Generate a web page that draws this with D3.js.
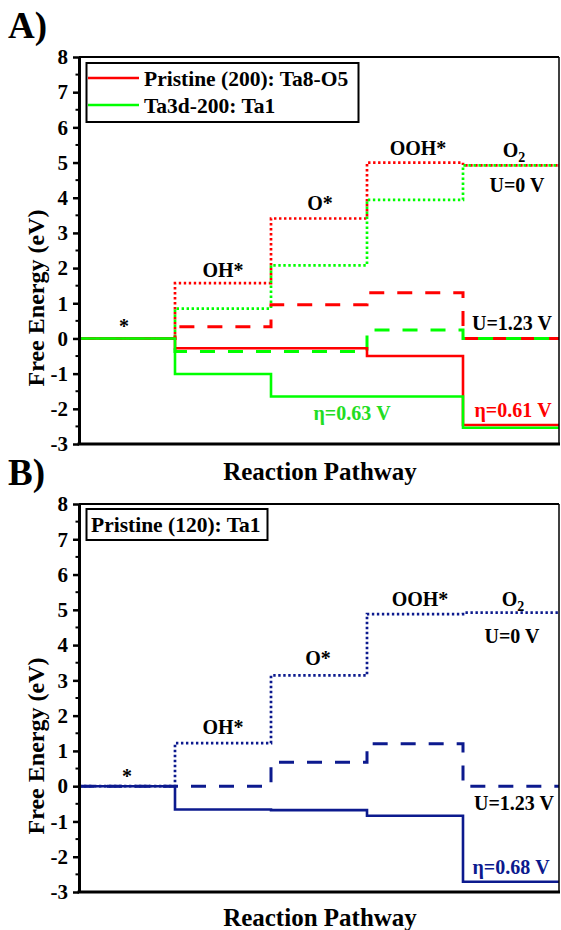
<!DOCTYPE html>
<html>
<head>
<meta charset="utf-8">
<script src="https://cdn.jsdelivr.net/npm/d3@7"></script>
<style>
  html, body { margin: 0; padding: 0; background: #fff; overflow: hidden; }
  svg { display: block; }
  text { font-family: "Liberation Serif", "Times New Roman", serif; font-weight: bold; }
</style>
</head>
<body>
<svg id="chart" width="561" height="930"></svg>
<script>
// ---- Data ----
const steps = ["*", "OH*", "O*", "OOH*", "O2"];
const yTicks = [-3, -2, -1, 0, 1, 2, 3, 4, 5, 6, 7, 8];

// Panel A: Pristine (200): Ta8-O5 (red)
const pristine200_U0   = [0, 1.57, 3.41, 5.00, 4.92];
const pristine200_U123 = [0, 0.33, 0.96, 1.30, 0.00];
const pristine200_Ueta = [0, -0.28, -0.28, -0.50, -2.46];
// Panel A: Ta3d-200: Ta1 (green)
const ta3d200_U0   = [0, 0.85, 2.08, 3.94, 4.92];
const ta3d200_U123 = [0, -0.37, -0.37, 0.24, 0.00];
const ta3d200_Ueta = [0, -1.01, -1.65, -1.65, -2.54];
// Panel B: Pristine (120): Ta1 (navy)
const pristine120_U0   = [0, 1.22, 3.14, 4.88, 4.92];
const pristine120_U123 = [0, 0.00, 0.68, 1.20, 0.00];
const pristine120_Ueta = [0, -0.66, -0.68, -0.84, -2.71];

const RED = "#ff0000", GREEN = "#00ff00", NAVY = "#0c1a8e";

const svg = d3.select("#chart");
const X0 = 79, X1 = 559;
const x = d3.scaleLinear().domain([0, steps.length]).range([X0, X1]);

function stepPts(vals) {
  const pts = vals.map((v, i) => [i, v]);
  pts.push([vals.length, vals[vals.length - 1]]);
  return pts;
}

const styles = {
  dot:  { w: 2.7, dash: "2.4,2.6" },
  dash: { w: 3,   dash: "15,13" },
  solid:{ w: 2.6, dash: null }
};

function panel(cfg) {
  const y = d3.scaleLinear().domain([-3, 8]).range([cfg.yBottom, cfg.yTop]);
  const g = svg.append("g");
  const line = d3.line().x(d => x(d[0])).y(d => y(d[1])).curve(d3.curveStepAfter);

  cfg.series.forEach(s => {
    const st = styles[s.style];
    g.append("path")
      .attr("d", line(stepPts(s.values)))
      .attr("fill", "none")
      .attr("stroke", s.color)
      .attr("stroke-width", st.w)
      .attr("stroke-dasharray", st.dash)
      .attr("stroke-dashoffset", s.offset || 0);
  });

  // frame: top and right
  g.append("line").attr("x1", X0).attr("x2", X1).attr("y1", cfg.yTop).attr("y2", cfg.yTop)
    .attr("stroke", "#000").attr("stroke-width", 2);
  g.append("line").attr("x1", X1).attr("x2", X1).attr("y1", cfg.yTop).attr("y2", cfg.yBottom)
    .attr("stroke", "#000").attr("stroke-width", 1.5);

  // y axis
  const yAxis = d3.axisLeft(y).tickValues(yTicks).tickSize(6).tickSizeOuter(0).tickPadding(5)
    .tickFormat(d => d < 0 ? "-" + Math.abs(d) : d);
  const ag = g.append("g").attr("transform", `translate(${X0},0)`).call(yAxis);
  ag.select(".domain").attr("stroke-width", 3);
  ag.selectAll(".tick line").attr("stroke-width", 2.5);
  ag.selectAll(".tick text").attr("font-size", 21).attr("font-family", "Liberation Serif, serif")
    .attr("font-weight", "bold").attr("fill", "#000");
  const minors = d3.range(-2.5, 8, 1);
  g.selectAll(".minor").data(minors).enter().append("line")
    .attr("x1", X0 - 3.5).attr("x2", X0).attr("y1", d => y(d)).attr("y2", d => y(d))
    .attr("stroke", "#000").attr("stroke-width", 2);

  // x axis line
  g.append("line").attr("x1", X0 - 1.5).attr("x2", X1 + 1).attr("y1", cfg.yBottom).attr("y2", cfg.yBottom)
    .attr("stroke", "#000").attr("stroke-width", 3);

  // axis titles
  g.append("text").attr("x", 320).attr("y", cfg.yBottom + cfg.xTitleDy).attr("text-anchor", "middle")
    .attr("font-size", 25).text("Reaction Pathway");
  g.append("text").attr("transform", `translate(${44},${cfg.yBottom - 146}) rotate(-90)`)
    .attr("text-anchor", "middle").attr("font-size", 24).text("Free Energy (eV)");

  // panel letter
  g.append("text").attr("x", 8).attr("y", cfg.yTop - 19).attr("font-size", 37).text(cfg.letter);

  cfg.labels.forEach(l => {
    if (l.t === "O2") {
      const tt = g.append("text").attr("x", l.x).attr("y", l.y).attr("text-anchor", "middle")
        .attr("font-size", 20).attr("fill", "#000");
      tt.append("tspan").text("O");
      tt.append("tspan").attr("font-size", 14).attr("dy", 5).text("2");
    } else {
      g.append("text").attr("x", l.x).attr("y", l.y).attr("text-anchor", "middle")
        .attr("font-size", 20).attr("fill", l.color || "#000").text(l.t);
    }
  });
  return { g, y };
}

// Panel A
const A = panel({
  letter: "A)", yTop: 57, yBottom: 444, xTitleDy: 36,
  series: [
    { values: pristine200_U0, color: RED, style: "dot" },
    { values: ta3d200_U0, color: GREEN, style: "dot", offset: 2.5 },
    { values: pristine200_U123, color: RED, style: "dash" },
    { values: ta3d200_U123, color: GREEN, style: "dash", offset: 6 },
    { values: pristine200_Ueta, color: RED, style: "solid" },
    { values: ta3d200_Ueta, color: GREEN, style: "solid" }
  ],
  labels: [
    { x: 124, y: 333, t: "*" },
    { x: 223, y: 277, t: "OH*" },
    { x: 320, y: 210, t: "O*" },
    { x: 418, y: 155, t: "OOH*" },
    { x: 514, y: 157, t: "O2" },
    { x: 517, y: 192, t: "U=0 V" },
    { x: 512, y: 330, t: "U=1.23 V" },
    { x: 352, y: 420, t: "\u03b7=0.63 V", color: "#22dd22" },
    { x: 513, y: 417, t: "\u03b7=0.61 V", color: RED }
  ]
});

// Legend A
(function () {
  const g = A.g;
  g.append("rect").attr("x", 86.5).attr("y", 63).attr("width", 272).attr("height", 59)
    .attr("fill", "#fff").attr("stroke", "#000").attr("stroke-width", 2);
  const items = [{ c: RED, t: "Pristine (200): Ta8-O5" }, { c: GREEN, t: "Ta3d-200: Ta1" }];
  items.forEach((it, i) => {
    const yy = 78 + i * 27;
    g.append("line").attr("x1", 88).attr("x2", 139).attr("y1", yy).attr("y2", yy)
      .attr("stroke", it.c).attr("stroke-width", 2.6);
    g.append("text").attr("x", 144).attr("y", yy + 7.5).attr("font-size", 21.5).text(it.t);
  });
})();

// Panel B
const B = panel({
  letter: "B)", yTop: 504, yBottom: 892, xTitleDy: 34,
  series: [
    { values: pristine120_U0, color: NAVY, style: "dot" },
    { values: pristine120_U123, color: NAVY, style: "dash" },
    { values: pristine120_Ueta, color: NAVY, style: "solid" }
  ],
  labels: [
    { x: 127, y: 783, t: "*" },
    { x: 223, y: 734, t: "OH*" },
    { x: 318, y: 665, t: "O*" },
    { x: 420, y: 606, t: "OOH*" },
    { x: 513, y: 606, t: "O2" },
    { x: 512, y: 643, t: "U=0 V" },
    { x: 514, y: 810, t: "U=1.23 V" },
    { x: 511, y: 874, t: "\u03b7=0.68 V", color: NAVY }
  ]
});

// Legend B
(function () {
  const g = B.g;
  g.append("rect").attr("x", 86.5).attr("y", 509).attr("width", 181).attr("height", 31)
    .attr("fill", "#fff").attr("stroke", "#000").attr("stroke-width", 2);
  g.append("text").attr("x", 91).attr("y", 532).attr("font-size", 21.5).text("Pristine (120): Ta1");
})();
</script>
</body>
</html>
